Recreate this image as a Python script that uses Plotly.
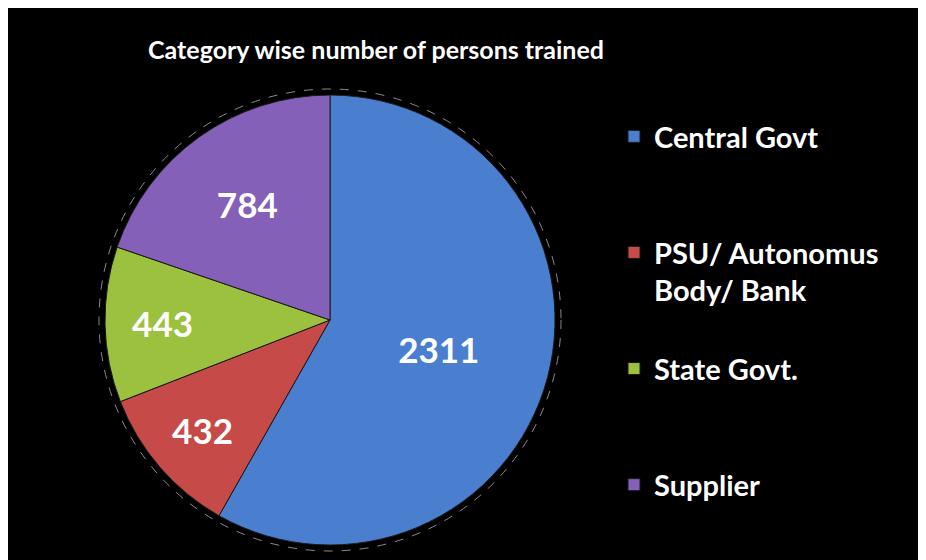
import plotly.graph_objects as go

categories = ["Central Govt", "PSU/ Autonomus<br>Body/ Bank", "State Govt.", "Supplier"]
values = [2311, 432, 443, 784]
colors = ["#4A7FCF", "#C64A47", "#9CC13F", "#8560B8"]
# blank lines appended to legend labels to reproduce legend spacing
legend_pad = [2, 1, 2, 0]

# page body adds an 8px offset; figure fills the rest of the 926x560 window
OFF = 8
W, H = 926 - OFF, 560 - OFF
labels = [c + "<br>\u00a0" * p for c, p in zip(categories, legend_pad)]

def px_x(p):
    return (p - OFF) / W

def px_y(p):
    return 1 - (p - OFF) / H

cx, cy, r = 330, 320, 225

fig = go.Figure(go.Pie(
    labels=labels,
    values=values,
    sort=False,
    direction="clockwise",
    rotation=0,
    textinfo="value",
    textposition="inside",
    insidetextorientation="horizontal",
    textfont=dict(family="Lato", size=35, color="white", weight="bold"),
    marker=dict(colors=colors, line=dict(color="#1a1a1a", width=1)),
    domain=dict(x=[px_x(cx - r), px_x(cx + r)], y=[px_y(cy + r), px_y(cy - r)]),
    hoverinfo="label+value",
))

fig.update_layout(
    width=W, height=H,
    margin=dict(l=0, r=0, t=0, b=0),
    paper_bgcolor="black",
    title=dict(
        text="<b>Category wise number of persons trained</b>",
        x=px_x(376), xanchor="center",
        y=px_y(50), yanchor="middle",
        font=dict(family="Lato", size=25, color="white"),
    ),
    legend=dict(
        x=px_x(614), xanchor="left",
        y=px_y(111), yanchor="top",
        font=dict(family="Lato", size=29, color="white", weight="bold"),
        valign="top",
        bgcolor="rgba(0,0,0,0)",
    ),
    shapes=[
        dict(type="circle", xref="paper", yref="paper",
             x0=px_x(cx - 231), x1=px_x(cx + 231),
             y0=px_y(cy + 231), y1=px_y(cy - 231),
             line=dict(color="#8a8a8a", width=1, dash="dash"), layer="below"),
    ],
)

fig.write_html("out.html", default_width=f"{W}px", default_height=f"{H}px")
